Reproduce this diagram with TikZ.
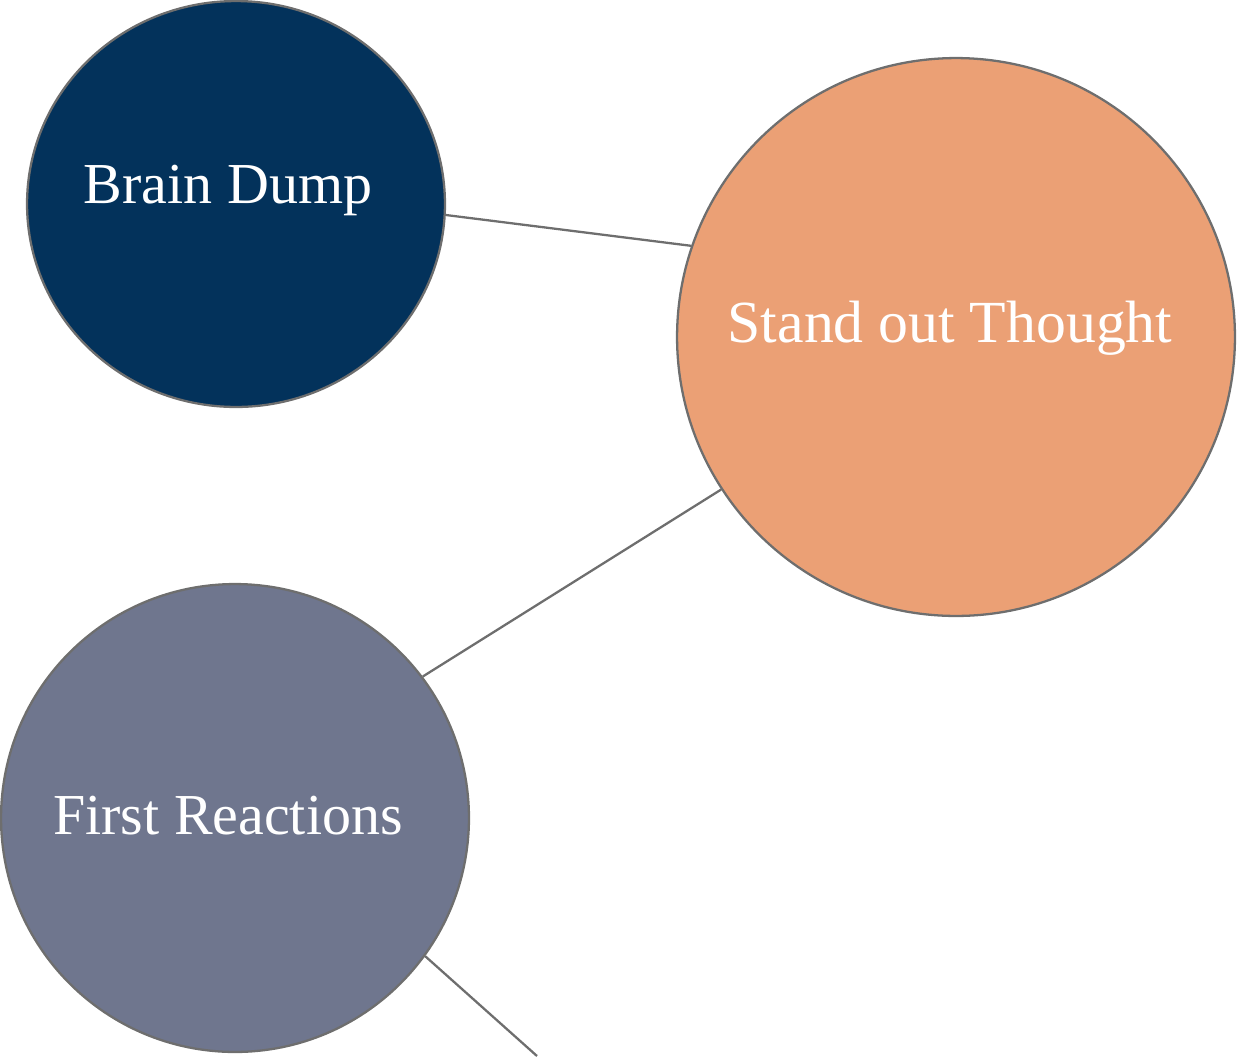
\documentclass[tikz,border=0pt]{standalone}
\usepackage{fontspec}
\setmainfont{Liberation Serif}
\usepackage{xcolor}
\usetikzlibrary{shapes.geometric}

\definecolor{dumpblue}{HTML}{03325B}
\definecolor{thoughtorange}{HTML}{EBA075}
\definecolor{reactgrey}{HTML}{6F768E}
\definecolor{rimgrey}{HTML}{6E6E6E}

\begin{document}
\begin{tikzpicture}[
                        x=0.02cm,
                        y=-0.02cm,
                        bubble/.style={
                                ellipse,
                                draw=rimgrey,
                                line width=1.3pt,
                                inner sep=0pt,
                            },
                        every node/.style={
                                font=\fontsize{33}{40}\selectfont,
                            },
                        caption/.style={
                                anchor=base,
                                text=white,
                                inner sep=0pt,
                            },
                        link/.style={
                                draw=rimgrey,
                                line width=1.3pt,
                            },
                    ]

                    \useasboundingbox (0,0) rectangle (1237,1056);

                    \node[bubble,fill=dumpblue,minimum width=8.36cm,minimum height=8.12cm] (dump) at (236,204) {};
                    \node[bubble,fill=thoughtorange,minimum width=11.16cm,minimum height=11.16cm] (thought) at (956,337) {};
                    \node[bubble,fill=reactgrey,minimum width=9.36cm,minimum height=9.36cm] (react) at (235,818) {};

                    \node[caption] (dumptext) at (228,203) {Brain Dump};
                    \node[caption,font=\fontsize{34}{40}\selectfont] (thoughttext) at (950,342) {Stand out Thought};
                    \node[caption] (reacttext) at (228,834) {First Reactions};

                    \coordinate (loose) at (537,1056);

                    \draw[link] (dump.-3) -- (thought.161);
                    \draw[link] (thought.213.6) -- (react.37);
                    \draw[link] (react.-36) -- (loose);
                \end{tikzpicture}
\end{document}
